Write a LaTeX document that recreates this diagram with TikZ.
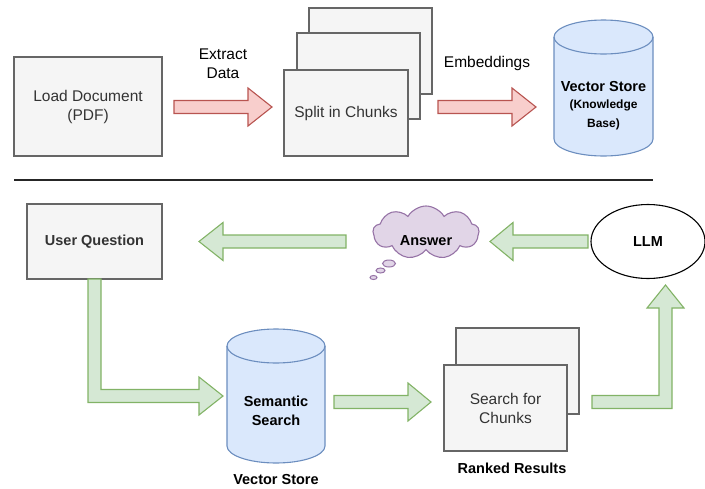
\documentclass[tikz,border=0pt]{standalone}
\usepackage{fontspec}
\setmainfont{Liberation Sans}
\usetikzlibrary{shapes.symbols,shapes.geometric}
\definecolor{boxfill}{HTML}{F5F5F5}
\definecolor{boxline}{HTML}{666666}
\definecolor{txtgrey}{HTML}{333333}
\definecolor{redfill}{HTML}{F8CECC}
\definecolor{redline}{HTML}{B85450}
\definecolor{greenfill}{HTML}{D5E8D4}
\definecolor{greenline}{HTML}{82B366}
\definecolor{bluefill}{HTML}{DAE8FC}
\definecolor{blueline}{HTML}{6C8EBF}
\definecolor{purplefill}{HTML}{E1D5E7}
\definecolor{purpleline}{HTML}{9673A6}
\begin{document}
\begin{tikzpicture}[x=1pt,y=-1pt,
  mainfont/.style={font=\fontsize{15.5}{19}\selectfont},
  boldfont/.style={font=\fontsize{14.5}{18.5}\selectfont\bfseries},
  box/.style={draw=boxline, fill=boxfill, line width=1.1pt, inner sep=0pt, text=txtgrey, align=center, mainfont},
  cylbody/.style={draw=blueline, fill=bluefill, line width=1.1pt},
  cylline/.style={draw=blueline, line width=1.1pt},
  redarrow/.style={draw=redline, fill=redfill, line width=1.1pt, line join=miter},
  greenarrow/.style={draw=greenline, fill=greenfill, line width=1.1pt, line join=miter},
  label/.style={align=center, text=black, inner sep=0pt},
  bubble/.style={ellipse, draw=purpleline, fill=purplefill, line width=1pt, inner sep=0pt}
]
\useasboundingbox (0,0) rectangle (705,488);

% ---------- top row ----------
\node[box, minimum width=148pt, minimum height=99pt] (load) at (88,106.5) {Load Document\\(PDF)};

\node[box, minimum width=123pt, minimum height=86pt] (chunk3) at (370.5,51) {};
\node[box, minimum width=123pt, minimum height=86pt] (chunk2) at (358.5,76) {};
\node[box, minimum width=124pt, minimum height=86pt] (split) at (346,113) {Split in Chunks};

\node[label, mainfont] (extract) at (223,63.5) {Extract\\Data};
\node[label, mainfont] (embed) at (487,63) {Embeddings};

% red block arrows
\draw[redarrow] (174,100.5) -- (248,100.5) -- (248,88) -- (272,107) -- (248,126) -- (248,113.5) -- (174,113.5) -- cycle;
\draw[redarrow] (438,100.5) -- (512,100.5) -- (512,88) -- (536,107) -- (512,126) -- (512,113.5) -- (438,113.5) -- cycle;

% vector store cylinder
\path[cylbody] (554,37) -- (554,139) arc[start angle=180,end angle=360,x radius=49.5pt,y radius=17pt] -- (653,37) arc[start angle=0,end angle=180,x radius=49.5pt,y radius=17pt] -- cycle;
\draw[cylline] (554,37) arc[start angle=180,end angle=360,x radius=49.5pt,y radius=17pt];
\node[label, boldfont] (vs) at (603.5,87) {Vector Store};
\node[label, font=\fontsize{12}{18.5}\selectfont\bfseries] (kb) at (603.5,115) {(Knowledge\\Base)};

% separator
\coordinate (sepL) at (14,180);
\coordinate (sepR) at (653,180);
\draw[line width=1.4pt, black!85] (sepL) -- (sepR);

% ---------- bottom row ----------
\node[box, boldfont, minimum width=135pt, minimum height=75pt] (user) at (94.5,241.5) {User Question};

\node[cloud, cloud puffs=9, cloud puff arc=120, aspect=2.1, draw=purpleline, fill=purplefill, line width=1.1pt, minimum width=106pt, minimum height=53pt, inner sep=0pt] (cloud) at (426,232.5) {};
\node[label, boldfont] (answer) at (426,241) {Answer};
\node[bubble, minimum width=13pt, minimum height=7pt] (b1) at (389,263.5) {};
\node[bubble, minimum width=9pt, minimum height=5pt] (b2) at (380.5,270.5) {};
\node[bubble, minimum width=7pt, minimum height=4pt] (b3) at (373.5,277.5) {};

\node[ellipse, draw=black, fill=white, line width=1.1pt, minimum width=114pt, minimum height=74pt, inner sep=0pt, boldfont] (llm) at (648,241.5) {LLM};

% green arrows top
\draw[greenarrow] (346,235) -- (223,235) -- (223,222.5) -- (199,241.5) -- (223,260.5) -- (223,248) -- (346,248) -- cycle;
\draw[greenarrow] (588,235) -- (513,235) -- (513,222.5) -- (490,241.5) -- (513,260.5) -- (513,248) -- (588,248) -- cycle;

% semantic search cylinder
\path[cylbody] (227,346) -- (227,446) arc[start angle=180,end angle=360,x radius=49pt,y radius=17pt] -- (325,346) arc[start angle=0,end angle=180,x radius=49pt,y radius=17pt] -- cycle;
\draw[cylline] (227,346) arc[start angle=180,end angle=360,x radius=49pt,y radius=17pt];
\node[label, boldfont] (sem) at (276,411) {Semantic\\Search};
\node[label, boldfont] (vs2) at (276,480) {Vector Store};

% search for chunks
\node[box, minimum width=123pt, minimum height=86pt] (res2) at (517.5,371) {};
\node[box, minimum width=123pt, minimum height=86pt] (search) at (505.5,408) {Search for\\Chunks};
\node[label, boldfont] (ranked) at (512,468) {Ranked Results};

% green L arrow user -> semantic
\draw[greenarrow] (88,279) -- (101,279) -- (101,389.5) -- (199,389.5) -- (199,377) -- (223,396) -- (199,415) -- (199,402.5) -- (88,402.5) -- cycle;
% green straight semantic -> search
\draw[greenarrow] (334,395.5) -- (408,395.5) -- (408,383) -- (431,402) -- (408,421) -- (408,408.5) -- (334,408.5) -- cycle;
% green L arrow search -> llm
\draw[greenarrow] (592,395.5) -- (659,395.5) -- (659,308) -- (647,308) -- (665.5,285) -- (684,308) -- (672,308) -- (672,408.5) -- (592,408.5) -- cycle;

\end{tikzpicture}
\end{document}
